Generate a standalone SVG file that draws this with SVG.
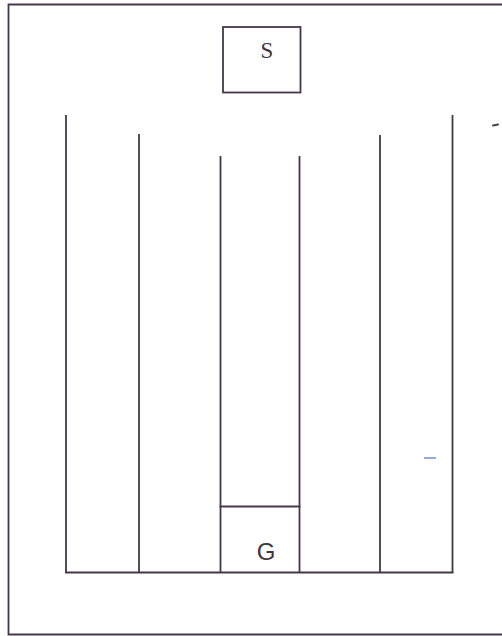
<svg xmlns="http://www.w3.org/2000/svg" width="502" height="636" viewBox="0 0 502 636">
<style>
.ln{stroke:#45384a;stroke-width:1.8;fill:none;stroke-linecap:square}
.t{fill:#3f3342}
</style>
<rect width="502" height="636" fill="#ffffff"/>
<g id="frame">
<path class="ln" d="M504 4.5 H8.5 V634.5 H504"/>
</g>
<g id="S">
<rect class="ln" x="223" y="27" width="77.5" height="65.5"/>
<text class="t" x="267" y="58" font-family="Liberation Serif, serif" font-size="23" text-anchor="middle">S</text>
</g>
<g id="tank">
<line class="ln" x1="66" y1="116" x2="66" y2="572"/>
<line class="ln" x1="139" y1="135" x2="139" y2="572"/>
<line class="ln" x1="220.5" y1="157" x2="220.5" y2="572"/>
<line class="ln" x1="299.5" y1="157" x2="299.5" y2="572"/>
<line class="ln" x1="380" y1="136" x2="380" y2="572"/>
<line class="ln" x1="452.5" y1="116" x2="452.5" y2="572"/>
<line class="ln" x1="66" y1="572.5" x2="452.5" y2="572.5"/>
</g>
<g id="G">
<line class="ln" x1="220.5" y1="506.5" x2="299.5" y2="506.5"/>
<text class="t" x="266" y="560" font-family="Liberation Sans, Arial, sans-serif" font-size="24" text-anchor="middle">G</text>
</g>
<g id="connectors"></g>
<g id="marks">
<path d="M493 125.5 L498 124.5" stroke="#4a3d4c" stroke-width="2" stroke-linecap="round"/>
<path d="M424 458 H436" stroke="#6f8ed8" stroke-width="1.5"/>
</g>
</svg>
